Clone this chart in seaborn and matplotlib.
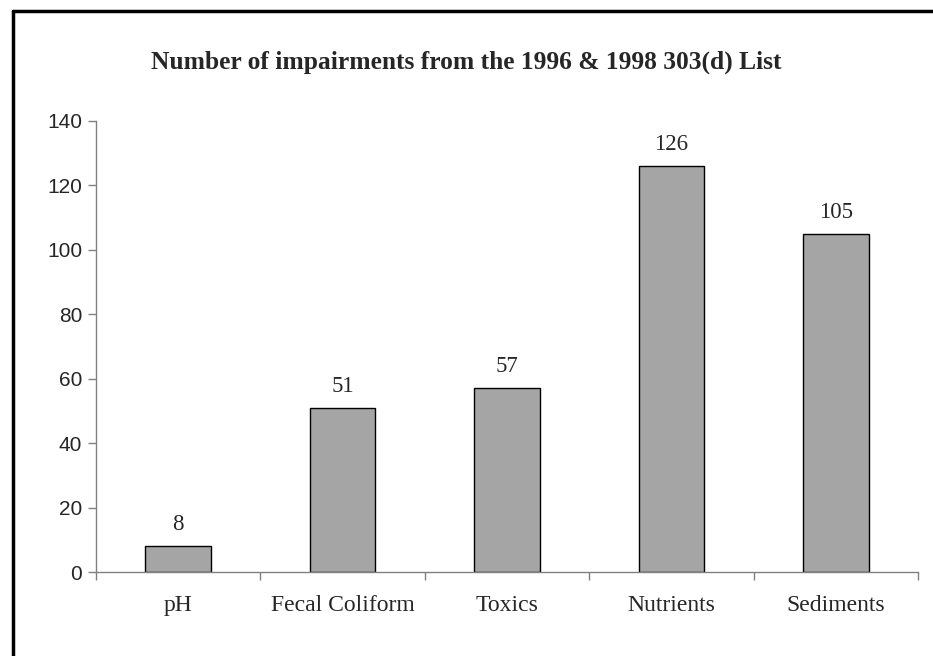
import pandas as pd
import seaborn as sns
import matplotlib.pyplot as plt
from matplotlib.lines import Line2D

categories = ["pH", "Fecal Coliform", "Toxics", "Nutrients", "Sediments"]
impairments = [8, 51, 57, 126, 105]
y_ticks = [0, 20, 40, 60, 80, 100, 120, 140]

df = pd.DataFrame({"category": categories, "count": impairments})

sns.set_theme(style="white")
serif = ["Liberation Serif", "DejaVu Serif"]
sans = ["Liberation Sans", "DejaVu Sans"]

fig = plt.figure(figsize=(9.33, 6.56), dpi=100)
ax = fig.add_axes([96 / 933, 1 - 572 / 656, (918 - 96) / 933, (572 - 121) / 656])

sns.barplot(data=df, x="category", y="count", color="#a5a5a5", saturation=1,
            width=0.4, edgecolor="black", linewidth=1, ax=ax)

for i, v in enumerate(impairments):
    ax.annotate(str(v), (i, v), xytext=(0, 8), textcoords="offset points",
                ha="center", va="bottom", fontsize=16.5, family=serif)

ax.set_xlim(-0.5, len(categories) - 0.5)
ax.set_ylim(0, 140)
ax.set_yticks(y_ticks)
ax.set_yticklabels([str(t) for t in y_ticks], family=sans, fontsize=15)
ax.set_xticks(range(len(categories)))
ax.set_xticklabels(categories, family=serif, fontsize=17)
ax.tick_params(axis="x", length=0, pad=16.5)
ax.tick_params(axis="y", length=6, width=1, color="#808080", direction="out", pad=4, left=True)
# category separator ticks on the x axis
ax.set_xticks([i - 0.5 for i in range(len(categories) + 1)], minor=True)
ax.tick_params(axis="x", which="minor", length=6, width=1, color="#808080", direction="out", bottom=True)
ax.set_xlabel("")
ax.set_ylabel("")
for s in ["top", "right"]:
    ax.spines[s].set_visible(False)
for s in ["left", "bottom"]:
    ax.spines[s].set_color("#808080")
    ax.spines[s].set_linewidth(1)

fig.text(0.5, 1 - 62 / 656, "Number of impairments from the 1996 & 1998 303(d) List",
         ha="center", va="center", fontsize=18.4, fontweight="bold", family=serif)

# outer frame (only top and left edges visible in the reference)
fig.add_artist(Line2D([13 / 933, 13 / 933], [0, 1 - 11 / 656], color="black", lw=2.5,
                      transform=fig.transFigure))
fig.add_artist(Line2D([13 / 933, 1], [1 - 11 / 656, 1 - 11 / 656], color="black", lw=2.5,
                      transform=fig.transFigure))

fig.savefig("out.png", dpi=100, facecolor="white")
